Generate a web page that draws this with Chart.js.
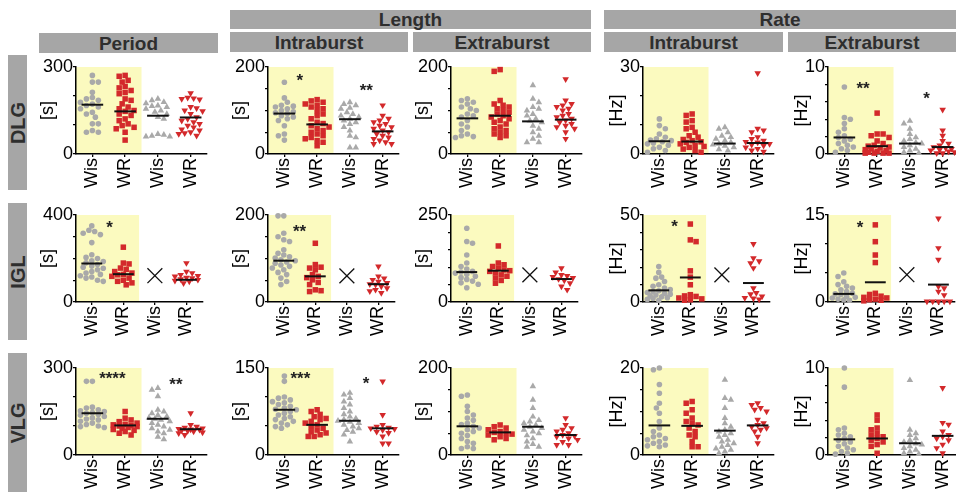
<!DOCTYPE html>
<html><head><meta charset="utf-8">
<script src="https://cdn.jsdelivr.net/npm/chart.js@4.4.1/dist/chart.umd.min.js"></script>
<style>
body{margin:0;background:#fff;}
#wrap{position:relative;width:956px;height:492px;overflow:hidden;font-family:'Liberation Sans',Arial,sans-serif;background:#fff;}
.bar{position:absolute;background:#a6a6a6;color:#2e2e2e;font-weight:bold;font-size:19px;display:flex;align-items:center;justify-content:center;line-height:1;}
.rbar{position:absolute;background:#a6a6a6;}
.rbar span{position:absolute;left:50%;top:50%;transform:translate(-50%,-50%) rotate(-90deg);color:#2e2e2e;font-weight:bold;font-size:20px;white-space:nowrap;line-height:1;}
canvas{position:absolute;}
</style></head><body><div id="wrap">
<div class="bar" style="left:230px;top:10px;width:361px;height:19px;">Length</div>
<div class="bar" style="left:604px;top:10px;width:352px;height:19px;">Rate</div>
<div class="bar" style="left:39px;top:33px;width:179px;height:20px;">Period</div>
<div class="bar" style="left:230px;top:32px;width:178px;height:20px;">Intraburst</div>
<div class="bar" style="left:413px;top:32px;width:178px;height:20px;">Extraburst</div>
<div class="bar" style="left:604px;top:32px;width:179px;height:20px;">Intraburst</div>
<div class="bar" style="left:788px;top:32px;width:168px;height:20px;">Extraburst</div>
<div class="rbar" style="left:8px;top:55px;width:19px;height:135px;"><span>DLG</span></div>
<div class="rbar" style="left:8px;top:203px;width:19px;height:137px;"><span>IGL</span></div>
<div class="rbar" style="left:8px;top:353px;width:19px;height:139px;"><span>VLG</span></div>
</div>
<script>
// ---------------- DATA ----------------
const categories = ['Wis','WR','Wis','WR'];

// DLG
const dlgPeriod = [
 [271,248,248,213,195,190,185,178,172,167,162,156,144,138,127,104,104,81,75,75],
 [271,268,254,248,233,228,219,212,208,190,185,173,162,156,150,147,138,133,121,115,104,98,92,87,75,48],
 [190,185,179,175,167,165,162,156,150,145,138,127,121,69,66,63,60,60],
 [210,194,192,190,188,162,158,150,148,138,127,121,115,110,104,98,92,85,81,75,72,69,63]
];
const dlgPeriodMed = [170,147,132,126];
const dlgLenIntra = [
 [165,129,119,112,110,108,104,100,97,95,93,88,85,81,77,65,46,42,32],
 [125,122,119,115,112,108,104,100,92,88,81,73,70,65,62,58,54,50,46,42,38,35,31,27,19],
 [119,115,112,106,104,96,92,88,85,81,77,73,69,62,54,42,38,15,15],
 [112,88,81,77,73,69,65,62,58,54,50,46,42,38,35,31,27,23,23]
];
const dlgLenIntraMed = [93,68,80,52];
const dlgLenExtra = [
 [127,123,119,115,108,104,100,92,88,85,77,69,62,54,46,42,40,38],
 [194,190,123,115,112,108,104,100,96,92,88,85,81,77,73,69,62,58,54,50,46,42,38],
 [158,127,119,108,104,100,92,88,81,77,73,65,58,50,42,35,27,27],
 [172,123,115,112,108,104,100,92,88,85,81,77,73,69,65,62,58,50,35]
];
const dlgLenExtraMed = [82,88,75,79];
const dlgRateIntra = [
 [12.1,9.8,8.7,6.9,5.8,5.2,4.8,4.6,4.2,3.8,3.5,3.0,2.3,1.8,1.2,0.6],
 [13.8,13.3,11.5,11.0,9.2,8.7,7.5,6.3,5.8,5.0,4.6,4.2,4.0,3.5,3.0,2.6,2.3,1.7,1.2,0.6],
 [9.2,8.7,7.5,6.3,5.8,5.2,4.6,4.0,3.5,3.2,2.8,2.3,1.6,1.2],
 [27.9,8.7,8.1,7.5,5.8,5.2,4.6,4.2,4.0,3.5,3.2,2.9,2.3,1.8,1.2,0.8]
];
const dlgRateIntraMed = [4.4,4.3,3.6,3.8];
const dlgRateExtra = [
 [7.7,4.2,4.0,3.5,2.9,2.5,2.1,1.9,1.7,1.5,1.2,1.0,0.8,0.6,0.4,0.2],
 [4.7,2.3,2.3,2.1,1.9,1.5,1.2,1.0,0.9,0.8,0.7,0.6,0.5,0.4,0.3,0.2,0.1,0.1,0.1,0.1],
 [3.8,3.5,2.9,2.3,1.9,1.7,1.5,1.3,1.2,1.0,0.8,0.6,0.4,0.2,0.1],
 [5.1,2.7,2.1,1.5,1.2,1.0,0.8,0.7,0.6,0.5,0.4,0.3,0.2,0.1,0.1]
];
const dlgRateExtraMed = [1.9,0.9,1.2,0.8];

// IGL (third group not recorded)
const iglPeriod = [
 [350,330,324,316,310,273,217,205,200,190,186,180,172,165,160,155,148,140,133,127,121,115,110,100,95],
 [252,179,175,156,150,140,133,127,125,118,110,100,95,88,79],
 [],
 [179,140,133,125,120,118,112,110,105,102,98,95,87]
];
const iglPeriodMed = [177,128,null,102];
const iglLenIntra = [
 [198,198,158,150,143,139,120,112,108,104,101,97,95,92,89,85,82,78,74,68,63,55,47,40],
 [135,86,80,78,74,63,59,56,51,45,40,28,26,24],
 [],
 [82,59,54,51,47,44,41,40,36,32,28,25,21]
];
const iglLenIntraMed = [95,59,null,41];
const iglLenExtra = [
 [212,174,169,135,112,102,95,88,86,83,80,74,70,65,60,55,51,41],
 [161,112,107,102,97,92,90,88,84,78,74,69,62,54],
 [],
 [97,85,78,75,72,69,66,62,54,45,35]
];
const iglLenExtraMed = [86,90,null,66];
const iglRateIntra = [
 [20.4,17.0,14.3,13.7,11.8,9.9,9.0,8.0,7.1,6.5,6.0,5.5,5.0,4.5,4.0,3.5,3.0,2.5,2.0,1.5,1.0],
 [44.8,35.7,34.7,17.9,14.3,9.9,4.2,3.5,3.2,2.3,1.8,1.3,1.0],
 [],
 [33.4,25.2,23.5,22.3,19.5,8.0,5.2,4.5,3.2,2.3,2.0,1.5]
];
const iglRateIntraMed = [6.7,14.1,null,10.9];
const iglRateExtra = [
 [5.0,4.4,3.5,3.0,2.7,2.4,2.1,1.8,1.5,1.4,1.3,1.0,0.8,0.7,0.5,0.4,0.3],
 [13.3,10.4,8.1,6.8,1.5,1.3,1.0,0.8,0.7,0.5,0.4,0.3,0.2],
 [],
 [14.4,9.3,7.3,2.7,2.4,1.8,1.2,0.1,0.1,0.1,0.1,0.1]
];
const iglRateExtraMed = [1.4,3.4,null,3.0];
// "×" marker values for the missing IGL group, per column
const iglMissing = [121, 60, 78, 15.6, 4.7];

// VLG
const vlgPeriod = [
 [254,254,165,162,156,152,150,146,144,140,137,133,128,124,121,116,110,105,100,98,95],
 [150,127,121,115,110,106,104,102,100,98,95,92,88,85,81,75,69],
 [231,225,202,156,150,144,138,133,128,125,121,116,110,104,98,92,87,81,75,63,54],
 [144,104,98,94,92,90,88,87,85,83,81,78,75,69]
];
const vlgPeriodMed = [144,102,125,89];
const vlgLenIntra = [
 [136,127,100,98,95,92,90,87,84,81,79,78,75,72,69,66,63,61,58,55,52,49,46],
 [78,75,70,66,63,61,58,55,52,49,46,43,40,38,35,32,32],
 [107,104,98,92,87,81,75,70,66,63,61,59,57,55,52,49,46,43,40,35,23],
 [127,69,52,49,47,46,45,43,40,38,32,20,20]
];
const vlgLenIntraMed = [78,52,59,46];
const vlgLenExtra = [
 [138,135,112,100,92,85,80,73,70,66,62,58,54,50,45,38,31,27,19,15,15],
 [69,65,62,58,54,52,50,48,46,42,38,35],
 [158,127,108,88,80,77,73,69,65,62,58,54,50,45,38,31,25,19,19],
 [85,69,62,58,54,50,46,44,42,38,35,30,23,23]
];
const vlgLenExtraMed = [66,52,65,46];
const vlgRateIntra = [
 [20,19.6,16.2,14.2,11.9,10.8,9.6,7.7,6.2,5.4,4.6,4.2,3.8,3.5,3.1,2.7,2.3,2.1,1.9],
 [12.3,11.9,10.4,9.6,8.5,7.7,7.3,6.9,6.2,5.4,4.6,4.2,3.1,1.9,1.9],
 [17.3,13.1,12.7,10.8,8.5,7.3,6.5,5.8,5.4,5.0,4.6,4.2,3.5,3.1,2.7,2.3,1.9,1.5,1.2,0.8,0.4],
 [11.9,11.5,10.8,10.4,10.0,8.1,7.3,6.9,6.5,6.2,5.8,5.4,4.2,2.7]
];
const vlgRateIntraMed = [6.8,6.7,5.6,6.8];
const vlgRateExtra = [
 [10.0,7.8,3.1,2.9,2.5,2.3,2.1,1.9,1.7,1.5,1.3,1.0,0.8,0.6,0.4,0.2,0.1],
 [4.6,4.0,3.1,2.9,2.5,2.3,2.1,1.9,1.7,1.5,1.2,1.0,0.2],
 [8.6,2.9,2.5,2.3,1.9,1.7,1.5,1.3,1.2,1.0,0.8,0.6,0.4,0.2,0.1],
 [7.7,3.7,3.5,2.7,2.3,2.1,1.9,1.7,1.2,0.8,0.2]
];
const vlgRateExtraMed = [1.8,1.9,1.35,2.2];

// y tick values
const ticks300 = [0,100,200,300];
const ticks400 = [0,100,200,300,400];
const ticks200 = [0,50,100,150,200];
const ticks150 = [0,50,100,150];
const ticks250 = [0,50,100,150,200,250];
const ticks30 = [0,10,20,30];
const ticks50 = [0,10,20,30,40,50];
const ticks20 = [0,5,10,15,20];
const ticks15 = [0,5,10,15];
const ticks10 = [0,2,4,6,8,10];

// significance stars: [x (group position), y value, text]
const dlgLenIntraStars = [[1.47,179,'*'],[3.5,157,'**']];
const dlgRateExtraStars = [[1.57,8.1,'**'],[3.51,6.9,'*']];
const iglPeriodStars = [[1.56,362,'*']];
const iglLenIntraStars = [[1.5,172,'**']];
const iglRateIntraStars = [[1.5,45.8,'*']];
const iglRateExtraStars = [[1.52,13.6,'*']];
const vlgPeriodStars = [[1.61,280,'****'],[3.55,257,'**']];
const vlgLenIntraStars = [[1.49,140,'***'],[3.49,131.5,'*']];

// ---------------- LAYOUT ----------------
const FONT = "'Liberation Sans', Arial, sans-serif";
const GREY = '#a9a9a9', RED = '#d3292b', YELLOW = '#fbfabf';
const COLX = [76, 268, 451, 643, 828];
const ROWT = [67, 215, 368];
const PW = 132, PH = 87;
const LEFT = 70, TOP = 14, RIGHT = 6, BOTTOM = 52;

const rows = [
 [ {d:dlgPeriod,m:dlgPeriodMed,max:300,t:ticks300,u:'[s]',s:[]},
   {d:dlgLenIntra,m:dlgLenIntraMed,max:200,t:ticks200,u:'[s]',s:dlgLenIntraStars},
   {d:dlgLenExtra,m:dlgLenExtraMed,max:200,t:ticks200,u:'[s]',s:[]},
   {d:dlgRateIntra,m:dlgRateIntraMed,max:30,t:ticks30,u:'[Hz]',s:[]},
   {d:dlgRateExtra,m:dlgRateExtraMed,max:10,t:ticks10,u:'[Hz]',s:dlgRateExtraStars} ],
 [ {d:iglPeriod,m:iglPeriodMed,max:400,t:ticks400,u:'[s]',s:iglPeriodStars,x:iglMissing[0]},
   {d:iglLenIntra,m:iglLenIntraMed,max:200,t:ticks200,u:'[s]',s:iglLenIntraStars,x:iglMissing[1]},
   {d:iglLenExtra,m:iglLenExtraMed,max:250,t:ticks250,u:'[s]',s:[],x:iglMissing[2]},
   {d:iglRateIntra,m:iglRateIntraMed,max:50,t:ticks50,u:'[Hz]',s:iglRateIntraStars,x:iglMissing[3]},
   {d:iglRateExtra,m:iglRateExtraMed,max:15,t:ticks15,u:'[Hz]',s:iglRateExtraStars,x:iglMissing[4]} ],
 [ {d:vlgPeriod,m:vlgPeriodMed,max:300,t:ticks300,u:'[s]',s:vlgPeriodStars},
   {d:vlgLenIntra,m:vlgLenIntraMed,max:150,t:ticks150,u:'[s]',s:vlgLenIntraStars},
   {d:vlgLenExtra,m:vlgLenExtraMed,max:200,t:ticks200,u:'[s]',s:[]},
   {d:vlgRateIntra,m:vlgRateIntraMed,max:20,t:ticks20,u:'[Hz]',s:[]},
   {d:vlgRateExtra,m:vlgRateExtraMed,max:10,t:ticks10,u:'[Hz]',s:[]} ]
];

const styles = [
 {ps:'circle', r:2.8, c:GREY, rot:0},
 {ps:'rect', r:3.9, c:RED, rot:0},
 {ps:'triangle', r:3.8, c:GREY, rot:0},
 {ps:'triangle', r:3.8, c:RED, rot:180}
];

// deterministic beeswarm layout (pixel based) -> x offsets in group units
function swarm(values, pxPerY, groupPx) {
  const D = 5.2, STEP = 3.0, MAXOFF = 12;
  const order = values.map((v,i)=>i).sort((a,b)=>values[b]-values[a]);
  const placed = [], offs = new Array(values.length).fill(0);
  order.forEach((i, n) => {
    const y = values[i]*pxPerY;
    const cands = [0];
    const first = (n % 2) ? -1 : 1;
    for (let k=1;k*STEP<=MAXOFF;k++){ cands.push(first*k*STEP, -first*k*STEP); }
    let chosen = null, best = -1, bestC = 0;
    for (const cx of cands) {
      const dmin = placed.length ? Math.min(...placed.map(p => Math.hypot(p[0]-cx, p[1]-y))) : 99;
      if (dmin >= D) { chosen = cx; break; }
      if (dmin > best) { best = dmin; bestC = cx; }
    }
    if (chosen === null) chosen = bestC;
    placed.push([chosen, y]);
    offs[i] = chosen / groupPx;
  });
  return offs;
}

const bgPlugin = {
  id:'bg',
  beforeDraw(chart){
    const {ctx, scales:{x,y}} = chart;
    ctx.save();
    ctx.fillStyle = YELLOW;
    const x0 = x.getPixelForValue(0.5), x1 = x.getPixelForValue(2.5);
    const y0 = y.getPixelForValue(y.max), y1 = y.getPixelForValue(0);
    ctx.fillRect(x0, y0, x1-x0, y1-y0);
    ctx.restore();
  }
};
const starPlugin = {
  id:'stars',
  afterDatasetsDraw(chart, args, opts){
    const {ctx, scales:{x,y}} = chart;
    ctx.save();
    ctx.fillStyle = '#222';
    ctx.font = 'bold 17px ' + FONT;
    ctx.textAlign = 'center';
    ctx.textBaseline = 'alphabetic';
    (opts.list||[]).forEach(([sx, sy, txt]) => {
      ctx.fillText(txt, x.getPixelForValue(sx), y.getPixelForValue(sy) + 10);
    });
    ctx.restore();
  }
};

const wrap = document.getElementById('wrap');
rows.forEach((row, r) => {
  row.forEach((p, c) => {
    const cv = document.createElement('canvas');
    cv.width = LEFT + PW + RIGHT;
    cv.height = TOP + PH + BOTTOM;
    cv.style.left = (COLX[c] - LEFT) + 'px';
    cv.style.top = (ROWT[r] - TOP) + 'px';
    wrap.appendChild(cv);
    const groupPx = PW / 4;
    const datasets = [];
    // medians first (drawn on top)
    p.m.forEach((m, k) => {
      if (m === null) return;
      datasets.push({data:[{x:k+1-0.33,y:m},{x:k+1+0.33,y:m}], showLine:true, borderColor:'#111',
        borderWidth:2, pointRadius:0, clip:false});
    });
    if (p.x !== undefined) {
      datasets.push({data:[{x:3,y:p.x}], pointStyle:'crossRot', pointRadius:10.5, pointBorderColor:'#111',
        pointBorderWidth:1.3, pointBackgroundColor:'transparent', showLine:false, clip:false});
    }
    p.d.forEach((vals, k) => {
      if (!vals.length) return;
      const st = styles[k];
      const offs = swarm(vals, PH / p.max, groupPx);
      datasets.push({
        data: vals.map((v,i)=>({x:k+1+offs[i], y:v})),
        pointStyle: st.ps, pointRadius: st.r, pointRotation: st.rot,
        pointBackgroundColor: st.c, pointBorderColor: st.c, pointBorderWidth: 0,
        showLine:false, clip:false
      });
    });
    const M = p.max;
    new Chart(cv, {
      type:'scatter',
      data:{datasets},
      plugins:[bgPlugin, starPlugin],
      options:{
        responsive:false, animation:false, devicePixelRatio:1, events:[],
        layout:{padding:{left:0, top:TOP, right:RIGHT, bottom:0}},
        plugins:{legend:{display:false}, tooltip:{enabled:false}, stars:{list:p.s}},
        scales:{
          x:{type:'linear', min:0.5, max:4.5,
            afterBuildTicks:s=>{ s.ticks = [1,2,3,4].map(v=>({value:v})); },
            ticks:{callback:v=>categories[Math.round(v)-1], minRotation:90, maxRotation:90, autoSkip:false,
              padding:1, color:'#000', font:{size:18, family:FONT}},
            grid:{display:true, drawOnChartArea:false, drawTicks:true, tickLength:3, color:'#000', lineWidth:1.3},
            border:{display:true, color:'#000', width:1.5},
            afterFit:s=>{ s.height = BOTTOM; }
          },
          y:{type:'linear', min:0, max:M,
            afterBuildTicks:s=>{ s.ticks = p.t.map(v=>({value:v})); },
            ticks:{callback:v=>(v===0||v===M)?String(v):'', padding:0, color:'#000', autoSkip:false,
              font:{size:18, family:FONT}},
            grid:{display:true, drawOnChartArea:false, drawTicks:true, tickLength:3, color:'#000', lineWidth:1.3},
            border:{display:true, color:'#000', width:1.5},
            title:{display:true, text:p.u, color:'#000', font:{size:18, family:FONT},
              padding:{top:(p.u==='[s]'?31:33), bottom:0}},
            afterFit:s=>{ s.width = LEFT; }
          }
        }
      }
    });
  });
});
</script>
</body></html>
